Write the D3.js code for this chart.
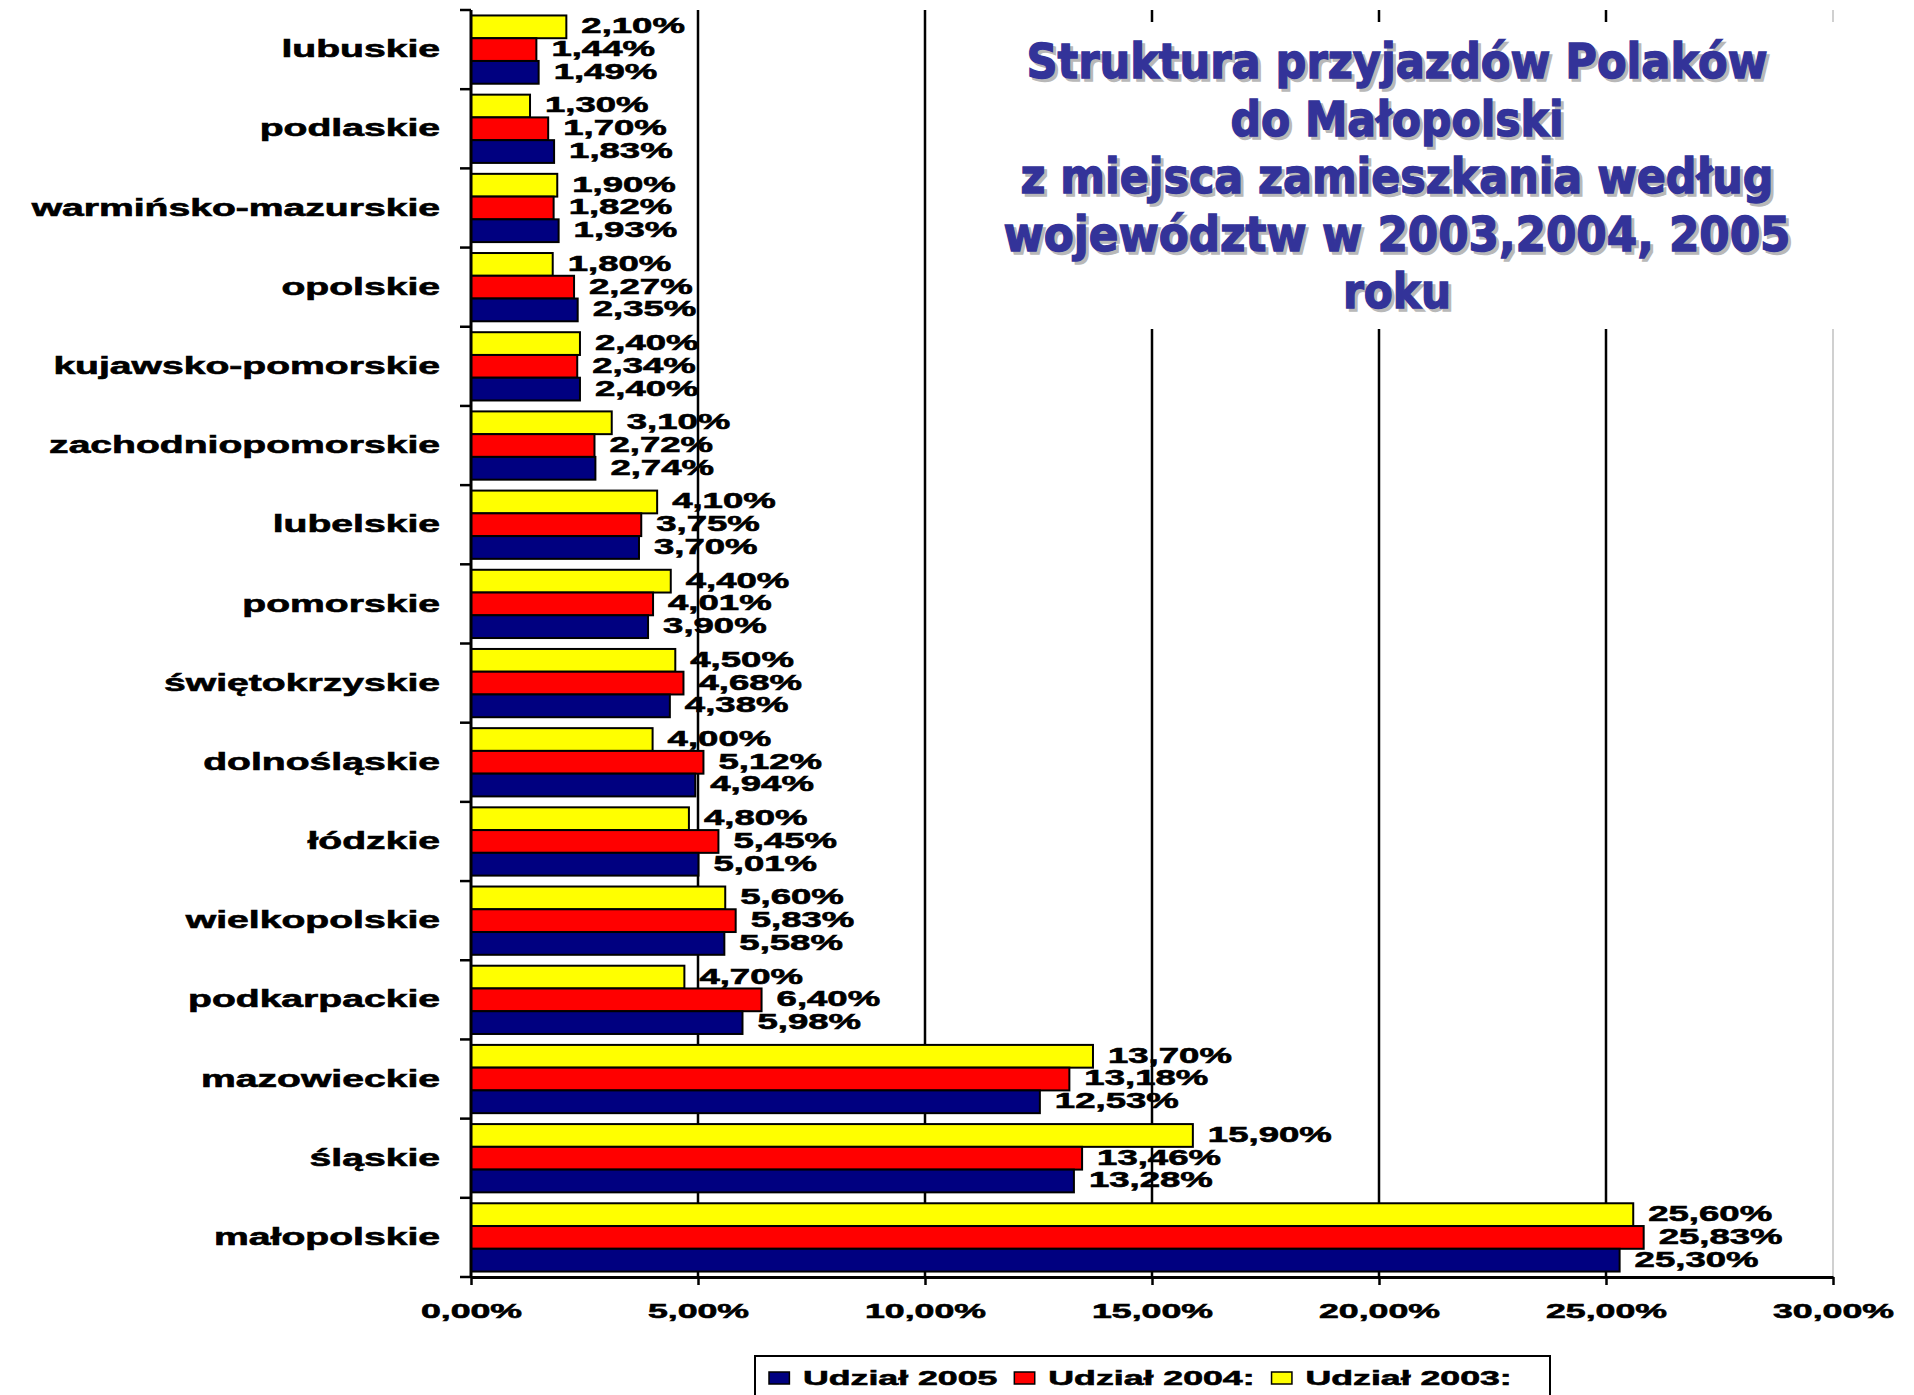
<!DOCTYPE html>
<html>
<head>
<meta charset="utf-8">
<script src="https://cdn.jsdelivr.net/npm/d3@7"></script>
<style>
  body { margin: 0; background: #fff; }
  svg { display: block; }
  text { font-family: "Liberation Sans", Arial, sans-serif; font-weight: bold; }
  .heavy { stroke: #000; stroke-width: 0.6px; }
</style>
</head>
<body>
<div id="chart"></div>
<script>
// Województwa (top to bottom)
const categories = [
    'lubuskie', 'podlaskie', 'warmińsko-mazurskie', 'opolskie', 'kujawsko-pomorskie',
    'zachodniopomorskie', 'lubelskie', 'pomorskie', 'świętokrzyskie', 'dolnośląskie',
    'łódzkie', 'wielkopolskie', 'podkarpackie', 'mazowieckie', 'śląskie', 'małopolskie'
];

// shares in %
const udzial2003 = [2.10, 1.30, 1.90, 1.80, 2.40, 3.10, 4.10, 4.40, 4.50, 4.00, 4.80, 5.60, 4.70, 13.70, 15.90, 25.60];
const udzial2004 = [1.44, 1.70, 1.82, 2.27, 2.34, 2.72, 3.75, 4.01, 4.68, 5.12, 5.45, 5.83, 6.40, 13.18, 13.46, 25.83];
const udzial2005 = [1.49, 1.83, 1.93, 2.35, 2.40, 2.74, 3.70, 3.90, 4.38, 4.94, 5.01, 5.58, 5.98, 12.53, 13.28, 25.30];

const seriesKeys = ['2003', '2004', '2005'];
const legendNames = ['Udział 2005', 'Udział 2004:', 'Udział 2003:'];
const xTicks = [0, 5, 10, 15, 20, 25, 30];

const titleLines = [
    'Struktura przyjazdów Polaków',
    'do Małopolski',
    'z miejsca zamieszkania według',
    'województw w 2003,2004, 2005',
    'roku'
];

// ---- layout ----
const width = 1914, height = 1395;
const margin = { top: 10, right: 81, bottom: 118, left: 471 };
const SX = 1.7; // the original picture is stretched sideways
const colors = { '2003': '#ffff00', '2004': '#ff0000', '2005': '#000080' };

const locale = d3.formatLocale({ decimal: ',', thousands: ' ', grouping: [3], currency: ['', ''] });
const fmt = d => locale.format('.2f')(d) + '%';

const svg = d3.select('#chart')
    .append('svg')
    .attr('width', width)
    .attr('height', height);

svg.append('rect').attr('width', width).attr('height', height).attr('fill', '#fff');

const x = d3.scaleLinear()
    .domain([0, 30])
    .range([margin.left, width - margin.right]);

const y = d3.scaleBand()
    .domain(categories)
    .range([margin.top, height - margin.bottom]);

const sub = d3.scaleBand()
    .domain(seriesKeys)
    .range([0, y.bandwidth()])
    .paddingOuter(0.24);

const rows = categories.map((c, i) => ({
    name: c,
    values: [
        { key: '2003', v: udzial2003[i] },
        { key: '2004', v: udzial2004[i] },
        { key: '2005', v: udzial2005[i] }
    ]
}));

const plotBottom = height - margin.bottom;

// right border of plot area
svg.append('line')
    .attr('x1', x(30)).attr('x2', x(30))
    .attr('y1', margin.top).attr('y2', plotBottom)
    .attr('stroke', '#c0c0c0').attr('stroke-width', 1.5);

// gridlines
svg.append('g')
    .selectAll('line')
    .data(xTicks.slice(1, -1))
    .join('line')
    .attr('x1', d => x(d)).attr('x2', d => x(d))
    .attr('y1', margin.top).attr('y2', plotBottom)
    .attr('stroke', '#000').attr('stroke-width', 2.5);

// title box (white, hides the gridlines behind it)
const titleCx = 1397;
const titleWidths = [741, 333, 753, 787, 108];
svg.append('rect')
    .attr('x', 990).attr('y', 22)
    .attr('width', 852).attr('height', 307)
    .attr('fill', '#fff');

const title = svg.append('g').attr('class', 'title');
titleLines.forEach((t, i) => {
    const by = 78 + i * 57.5;
    [['#b8b8b8', 3], ['#333399', 0]].forEach(([fill, off]) => {
        title.append('text')
            .attr('x', titleCx + off)
            .attr('y', by + off)
            .attr('text-anchor', 'middle')
            .attr('textLength', titleWidths[i])
            .attr('lengthAdjust', 'spacingAndGlyphs')
            .style('font-family', '"DejaVu Sans", Verdana, sans-serif')
            .style('font-size', '48px')
            .attr('fill', fill)
            .attr('stroke', fill)
            .attr('stroke-width', 1.4)
            .text(t);
    });
});

// bars
const groups = svg.append('g')
    .selectAll('g')
    .data(rows)
    .join('g')
    .attr('transform', d => `translate(0,${y(d.name)})`);

groups.selectAll('rect')
    .data(d => d.values)
    .join('rect')
    .attr('x', x(0))
    .attr('y', d => sub(d.key))
    .attr('width', d => x(d.v) - x(0))
    .attr('height', sub.bandwidth())
    .attr('fill', d => colors[d.key])
    .attr('stroke', '#000')
    .attr('stroke-width', 2);

// data labels
groups.selectAll('text')
    .data(d => d.values)
    .join('text')
    .attr('class', 'heavy')
    .attr('transform', d => `translate(${x(d.v) + 15},${sub(d.key) + sub.bandwidth() / 2}) scale(${SX},1)`)
    .attr('dy', '0.3em')
    .style('font-size', '21.5px')
    .attr('fill', '#000')
    .text(d => fmt(d.v));

// left axis
svg.append('line')
    .attr('x1', x(0)).attr('x2', x(0))
    .attr('y1', margin.top).attr('y2', plotBottom)
    .attr('stroke', '#000').attr('stroke-width', 3);

svg.append('g')
    .selectAll('line')
    .data(categories.map(c => y(c)).concat([plotBottom]))
    .join('line')
    .attr('x1', x(0) - 11).attr('x2', x(0))
    .attr('y1', d => d).attr('y2', d => d)
    .attr('stroke', '#000').attr('stroke-width', 2.5);

svg.append('g')
    .selectAll('text')
    .data(categories)
    .join('text')
    .attr('class', 'heavy')
    .attr('transform', d => `translate(440,${y(d) + y.bandwidth() / 2}) scale(${SX},1)`)
    .attr('text-anchor', 'end')
    .attr('dy', '0.33em')
    .style('font-size', '23px')
    .text(d => d);

// bottom axis
const xAxis = svg.append('g')
    .attr('transform', `translate(0,${plotBottom})`)
    .call(d3.axisBottom(x).tickValues(xTicks).tickSize(8).tickSizeOuter(0).tickFormat(fmt));

xAxis.select('.domain').attr('stroke', '#000').attr('stroke-width', 3);
xAxis.selectAll('.tick line').attr('stroke', '#000').attr('stroke-width', 2.5);
xAxis.selectAll('.tick text')
    .attr('class', 'heavy')
    .attr('y', 41)
    .attr('dy', 0)
    .attr('transform', `scale(${SX},1)`)
    .attr('fill', '#000')
    .style('font-size', '21px')
    .style('font-family', '"Liberation Sans", Arial, sans-serif');

// legend
const legend = svg.append('g');
legend.append('rect')
    .attr('x', 755).attr('y', 1356)
    .attr('width', 795).attr('height', 50)
    .attr('fill', '#fff')
    .attr('stroke', '#000').attr('stroke-width', 2);

let lx = 769;
['2005', '2004', '2003'].forEach((k, i) => {
    legend.append('rect')
        .attr('x', lx).attr('y', 1372)
        .attr('width', 12 * SX).attr('height', 12)
        .attr('fill', colors[k])
        .attr('stroke', '#000').attr('stroke-width', 1.5);
    const t = legend.append('text')
        .attr('class', 'heavy')
        .attr('transform', `translate(${lx + 34},1385) scale(${SX},1)`)
        .style('font-size', '21px')
        .text(legendNames[i]);
    lx += 34 + t.node().getComputedTextLength() * SX + 17;
});
</script>
</body>
</html>
